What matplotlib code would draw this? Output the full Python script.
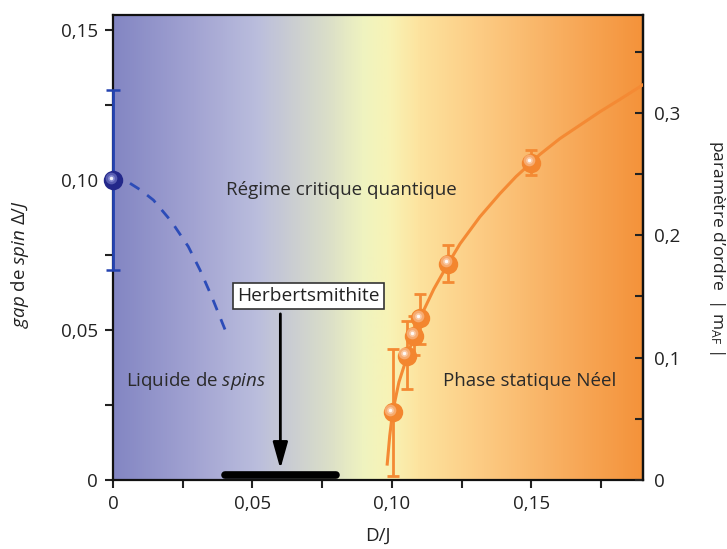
import numpy as np
import matplotlib
matplotlib.use("Agg")
import matplotlib.pyplot as plt
from matplotlib.colors import LinearSegmentedColormap
from matplotlib.ticker import FixedLocator, FixedFormatter
import matplotlib.transforms as mtransforms

plt.rcParams['font.family'] = ['Open Sans', 'DejaVu Sans']
plt.rcParams['mathtext.fontset'] = 'custom'
plt.rcParams['mathtext.rm'] = 'Open Sans'
plt.rcParams['mathtext.it'] = 'Open Sans:italic'

# --- data ---
# spin liquid gap (left axis)
gap_x = [0.0]
gap_y = [0.10]
gap_err = [0.03]
gap_curve_x = [0.0061, 0.0100, 0.0145, 0.021, 0.027, 0.0312, 0.0354, 0.0407]
gap_curve_y = [0.0989, 0.0966, 0.0933, 0.0861, 0.0778, 0.070, 0.0611, 0.0489]

# order parameter (right axis)
m_x = [0.1002, 0.1053, 0.1079, 0.110, 0.1202, 0.1498]
m_y = [0.0552, 0.1016, 0.118, 0.132, 0.1768, 0.2593]
m_err_lo = [0.052, 0.027, 0.016, 0.021, 0.015, 0.010]
m_err_hi = [0.052, 0.028, 0.016, 0.020, 0.015, 0.010]
fit_x = [0.0983, 0.0992, 0.1002, 0.1025, 0.1053, 0.110, 0.115, 0.1202, 0.1244, 0.1315, 0.1387,
         0.1445, 0.1498, 0.153, 0.1602, 0.1674, 0.1746, 0.1817, 0.190]
fit_y = [0.013, 0.036, 0.055, 0.080, 0.100, 0.132, 0.156, 0.177, 0.193, 0.215, 0.234,
         0.248, 0.259, 0.266, 0.279, 0.290, 0.301, 0.311, 0.323]

# Herbertsmithite range
herb_range = [0.04, 0.08]
herb_x = 0.06

x_ticks = [0, 0.05, 0.10, 0.15]
x_labels = ["0", "0,05", "0,10", "0,15"]
x_minor = [0.025, 0.075, 0.125, 0.175]
yl_ticks = [0, 0.05, 0.10, 0.15]
yl_labels = ["0", "0,05", "0,10", "0,15"]
yl_minor = [0.025, 0.075, 0.125]
yr_ticks = [0, 0.1, 0.2, 0.3]
yr_labels = ["0", "0,1", "0,2", "0,3"]
yr_minor = [0.05, 0.15, 0.25, 0.35]

fig = plt.figure(figsize=(7.27, 5.49), dpi=100)
ax = fig.add_axes([0.1554, 0.1257, 0.7291, 0.847])
ax.set_xlim(0, 0.19)
ax.set_ylim(0, 0.155)

# background gradient
stops = [(0.0, "#8386c3"), (0.15, "#a2a3d2"), (0.27, "#babddd"), (0.33, "#c9ccd3"),
         (0.40, "#d9ddc9"), (0.47, "#eff3c0"), (0.52, "#f8f3b6"), (0.58, "#fde29d"),
         (0.70, "#fcca82"), (0.85, "#f8ad5e"), (1.0, "#f4923a")]
cmap = LinearSegmentedColormap.from_list("bg", stops)
grad = np.linspace(0, 1, 512).reshape(1, -1)
ax.imshow(grad, extent=[0, 0.19, 0, 0.155], aspect='auto', cmap=cmap, zorder=0)

ax2 = ax.twinx()
ax2.set_ylim(0, 0.38)
for side in ('left', 'top', 'bottom'):
    ax2.spines[side].set_visible(False)

def sphere(a, x, y, base, light, size):
    a.plot(x, y, 'o', ms=size, color=base, mec='none', zorder=6, clip_on=False)
    for k, (s, c, al) in enumerate([(0.6, light, 0.5), (0.35, light, 0.8), (0.18, 'white', 0.9)]):
        tr = mtransforms.offset_copy(a.transData, fig=fig, x=-size * 0.12, y=size * 0.12, units='points')
        a.plot(x, y, 'o', ms=size * s, color=c, alpha=al, mec='none', zorder=7 + k,
               transform=tr, clip_on=False)

# blue: gap
ax.errorbar(gap_x, gap_y, yerr=gap_err, fmt='none', ecolor='#2443b0', elinewidth=2,
            capsize=5, capthick=1.8, zorder=5, clip_on=False)
ax.plot(gap_curve_x, gap_curve_y, '--', color='#2c4cb8', lw=2, dashes=(4, 3.5), zorder=4)
sphere(ax, gap_x, gap_y, '#23288a', '#8d93d8', 14)

# orange: order parameter
orange = '#f48a34'
ax2.plot(fit_x, fit_y, '-', color=orange, lw=2.2, zorder=3)
ax2.errorbar(m_x, m_y, yerr=[m_err_lo, m_err_hi], fmt='none', ecolor=orange, elinewidth=2,
             capsize=4, capthick=2, zorder=4)
sphere(ax2, m_x, m_y, '#f3862f', '#fbd0b0', 14)

# Herbertsmithite
ax.plot(herb_range, [0.0015, 0.0015], color='black', lw=5.5, solid_capstyle='round', zorder=8)
ax.annotate("", xy=(herb_x, 0.0028), xytext=(herb_x, 0.0563),
            arrowprops=dict(arrowstyle='-|>,head_length=1.6,head_width=0.45', color='black', lw=2),
            zorder=8)
ax.text(0.0700, 0.0613, "Herbertsmithite", ha='center', va='center', fontsize=13.8, zorder=9,
        color='#222222', bbox=dict(boxstyle='square,pad=0.22', fc='white', ec='#333333', lw=1.2))

ax.text(0.0817, 0.0967, "Régime critique quantique", ha='center', va='center', fontsize=13.5, color='#2a2a2a')
ax.text(0.0299, 0.033, r"Liquide de $\mathit{spins}$", ha='center', va='center', fontsize=13.5, color='#2a2a2a')
ax.text(0.1493, 0.033, "Phase statique Néel", ha='center', va='center', fontsize=13.5, color='#2a2a2a')

# ticks
ax.xaxis.set_major_locator(FixedLocator(x_ticks))
ax.xaxis.set_major_formatter(FixedFormatter(x_labels))
ax.xaxis.set_minor_locator(FixedLocator(x_minor))
ax.yaxis.set_major_locator(FixedLocator(yl_ticks))
ax.yaxis.set_major_formatter(FixedFormatter(yl_labels))
ax.yaxis.set_minor_locator(FixedLocator(yl_minor))
ax2.yaxis.set_major_locator(FixedLocator(yr_ticks))
ax2.yaxis.set_major_formatter(FixedFormatter(yr_labels))
ax2.yaxis.set_minor_locator(FixedLocator(yr_minor))

ax.tick_params(which='both', direction='out', length=6, width=1.5, labelsize=13.5, colors='#222222', pad=5)
ax.tick_params(axis='both', which='both', top=False, right=False)
ax2.tick_params(which='both', direction='in', length=6, width=1.5, labelsize=13.5, colors='#222222', pad=8)
for a in (ax, ax2):
    for s in a.spines.values():
        s.set_linewidth(1.6)
        s.set_color('#111111')

ax.set_xlabel("D/J", fontsize=13.5, color='#222222')
ax.xaxis.set_label_coords(0.5, -0.10)
ax.set_ylabel(r"$\mathit{gap}$ de $\mathit{spin}$ $\mathit{\Delta/J}$", fontsize=13.5, color='#222222',
              va='center')
ax.yaxis.set_label_coords(-0.175, 0.465)
ax2.set_ylabel(r"paramètre d’ordre  | m$_{\mathrm{AF}}$ |", fontsize=12.5, rotation=270,
               color='#222222', va='center')
ax2.yaxis.set_label_coords(1.14, 0.50)

fig.savefig("out.png", dpi=100)
